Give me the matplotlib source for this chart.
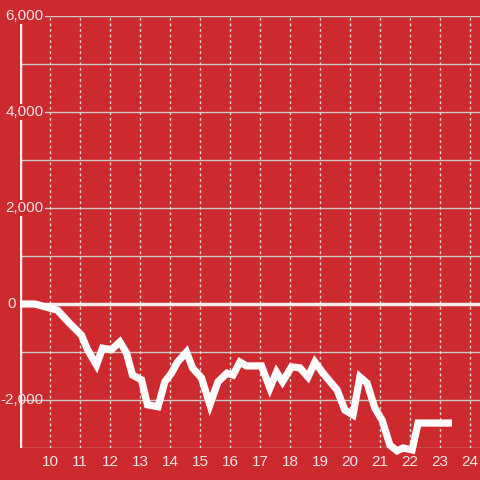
import matplotlib
matplotlib.use("Agg")
import matplotlib.pyplot as plt

hours = [9.0, 9.5, 10.25, 10.65, 11.05, 11.25, 11.55, 11.75, 12.05, 12.33, 12.55, 12.75,
         13.05, 13.25, 13.6, 13.83, 14.05, 14.25, 14.55, 14.75, 15.05, 15.33, 15.6, 15.9,
         16.1, 16.33, 16.55, 17.05, 17.33, 17.55, 17.75, 18.05, 18.33, 18.6, 18.83, 19.1,
         19.57, 19.83, 20.1, 20.33, 20.57, 20.83, 21.07, 21.33, 21.57, 21.77, 22.07, 22.27, 23.4]
values = [0, 0, -130, -400, -650, -950, -1270, -920, -950, -790, -1020, -1480,
          -1580, -2100, -2140, -1620, -1440, -1210, -1000, -1330, -1540, -2100, -1620, -1440,
          -1480, -1210, -1290, -1290, -1750, -1420, -1620, -1310, -1330, -1520, -1210, -1440,
          -1790, -2210, -2310, -1520, -1650, -2170, -2420, -2940, -3060, -3000, -3040, -2480, -2480]
x_ticks = list(range(10, 25))
y_grid = list(range(-3000, 6001, 1000))
y_labels = {6000: "6,000", 4000: "4,000", 2000: "2,000", 0: "0", -2000: "-2,000"}

BG = "#cc2a2e"
TXT = "#f3e4e4"
FONT = "Liberation Sans"

fig = plt.figure(figsize=(4.8, 4.8), dpi=100, facecolor=BG)
ax = fig.add_axes([20/480, 32/480, 460/480, 432/480], facecolor=BG)
ax.set_xlim(9, 9 + 460/30)
ax.set_ylim(-3000, 6000)
for s in ax.spines.values():
    s.set_visible(False)

for y in y_grid:
    if y == 0:
        continue
    ax.axhline(y, color="#d0c8c8", lw=1, zorder=1)
for x in x_ticks:
    ax.axvline(x, color="#e0d8d8", lw=1, ls=(0, (2, 2)), zorder=1)

ax.axvline(9, color="#f3eeee", lw=2.5, zorder=2)
ax.axhline(0, color="#f3eeee", lw=2.5, zorder=2)

ax.plot(hours, values, color="white", lw=5.2, solid_joinstyle="miter",
        solid_capstyle="butt", zorder=3, clip_on=False)

ax.set_xticks(x_ticks)
ax.set_xticklabels([str(t) for t in x_ticks])
ax.tick_params(axis="x", length=0, pad=5, labelsize=11, labelcolor=TXT)
ax.set_yticks([])
for lab in ax.get_xticklabels():
    lab.set_fontfamily(FONT)

tr = ax.get_yaxis_transform()
for v, t in y_labels.items():
    xr = (16 - 20) / 460 if v == 0 else (43.5 - 20) / 460
    kw = {}
    if v != -2000:
        kw["bbox"] = dict(facecolor=BG, edgecolor="none", pad=1.0)
    ax.text(xr, v, t, transform=tr, ha="right", va="center", color=TXT,
            fontsize=11, family=FONT, zorder=4, clip_on=False, **kw)

fig.savefig("out.png", dpi=100, facecolor=BG)
